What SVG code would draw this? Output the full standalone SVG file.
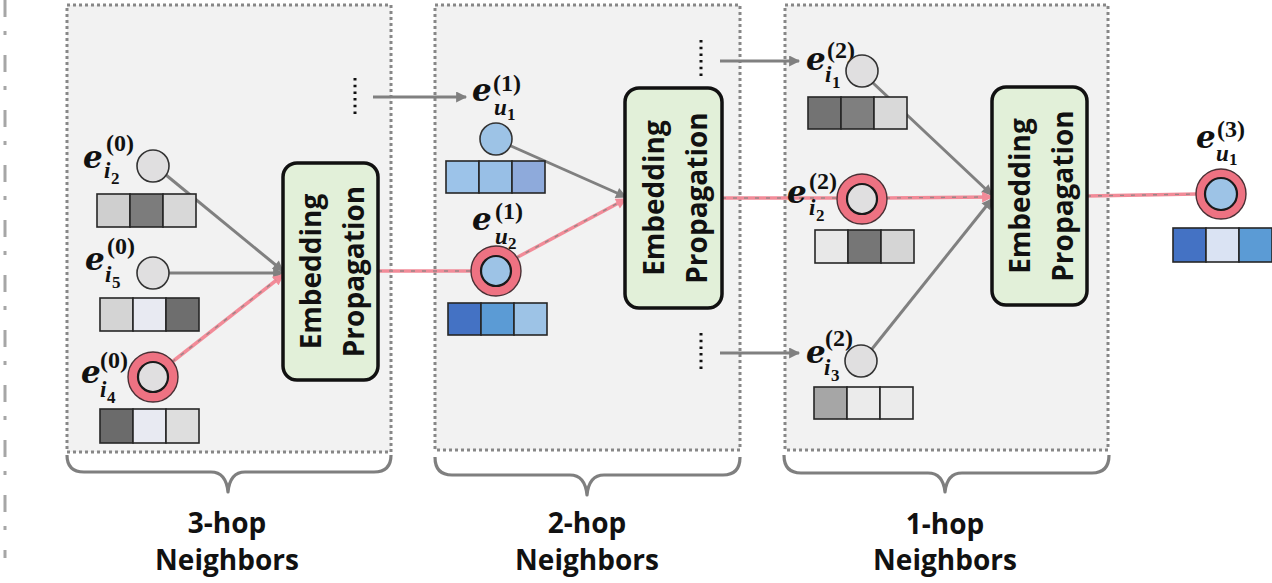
<svg xmlns="http://www.w3.org/2000/svg" width="1272" height="583" viewBox="0 0 1272 583">
  <style>
    .panel { fill: #f2f2f2; stroke: #878787; stroke-width: 3; stroke-dasharray: 3 3; }
    .brace { fill: none; stroke: #7f7f7f; stroke-width: 3.2; stroke-linejoin: round; }
    .hop { font-family: "Open Sans", "Liberation Sans", sans-serif; font-weight: 700; font-size: 28px; fill: #111; text-anchor: middle; }
    .ep rect { fill: #e2f0d9; stroke: #111; stroke-width: 3.5; }
    .ep text { font-family: "Open Sans", "Liberation Sans", sans-serif; font-weight: 700; font-size: 28px; fill: #111; text-anchor: middle; }
    .item { fill: #e0dfe0; stroke: #333; stroke-width: 1.6; }
    .user { fill: #9dc3e6; stroke: #333; stroke-width: 1.6; }
    .ring { fill: #ee7282; stroke: #4a3035; stroke-width: 1.4; }
    .core { stroke: #1a1a1a; stroke-width: 2.2; }
    .cell { stroke: #262626; stroke-width: 1.6; }
    .e { font-family: "DejaVu Serif", "Liberation Serif", serif; font-style: italic; font-weight: 700; font-size: 31px; fill: #111; }
    .sup { font-family: "Liberation Serif", "DejaVu Serif", serif; font-weight: 700; font-size: 24px; fill: #111; }
    .sub { font-family: "Liberation Serif", "DejaVu Serif", serif; font-style: italic; font-weight: 700; font-size: 23px; fill: #111; }
    .sub2 { font-family: "Liberation Serif", "DejaVu Serif", serif; font-weight: 700; font-size: 17px; fill: #111; }
    .edge { fill: none; stroke: #808080; stroke-width: 3; }
    .hl { fill: none; stroke: #f28b98; stroke-width: 3.5; }
    .hl-dash { fill: none; stroke: #9a8587; stroke-width: 1.4; stroke-dasharray: 4 7; }
    .more { stroke: #111; stroke-width: 3; stroke-dasharray: 2.5 4.2; }
  </style>
  <defs>
    <marker id="arrow" viewBox="0 0 10 10" refX="9" refY="5" markerUnits="userSpaceOnUse" markerWidth="12" markerHeight="11" orient="auto">
      <path d="M0,0 L10,5 L0,10 z" fill="#808080"/>
    </marker>
    <marker id="arrow-hl" viewBox="0 0 10 10" refX="9" refY="5" markerUnits="userSpaceOnUse" markerWidth="12" markerHeight="11" orient="auto">
      <path d="M0,0 L10,5 L0,10 z" fill="#f28b98"/>
    </marker>
  </defs>

  <!-- left dash-dot separator -->
  <line x1="5" y1="0" x2="5" y2="558" stroke="#a6a6a6" stroke-width="3" stroke-dasharray="17 14 4 20"/>

  <!-- hop panels -->
  <g id="panel-3hop"><rect class="panel" x="67" y="5" width="324" height="447"/></g>
  <g id="panel-2hop"><rect class="panel" x="435" y="5" width="305" height="445"/></g>
  <g id="panel-1hop"><rect class="panel" x="785" y="5" width="323" height="445"/></g>

  <!-- braces and captions -->
  <g id="brace-3hop">
    <path class="brace" d="M67,455 Q67,472 84,472 L211,472 Q226,472 228,492 Q230,472 245,472 L374,472 Q391,472 391,455"/>
    <text class="hop" x="227" y="533">3-hop</text>
    <text class="hop" x="227" y="570">Neighbors</text>
  </g>
  <g id="brace-2hop">
    <path class="brace" d="M435,457 Q435,475 452,475 L570,475 Q585,475 587,495 Q589,475 604,475 L723,475 Q740,475 740,457"/>
    <text class="hop" x="587" y="533">2-hop</text>
    <text class="hop" x="587" y="570">Neighbors</text>
  </g>
  <g id="brace-1hop">
    <path class="brace" d="M784,455 Q784,473 801,473 L928,473 Q943,473 945,492 Q947,473 962,473 L1092,473 Q1109,473 1109,455"/>
    <text class="hop" x="945" y="534">1-hop</text>
    <text class="hop" x="945" y="570">Neighbors</text>
  </g>

  <!-- ellipsis marks for omitted neighbours -->
  <g id="ellipses">
    <line class="more" x1="355" y1="78" x2="355" y2="117"/>
    <line class="more" x1="701" y1="40" x2="701" y2="80"/>
    <line class="more" x1="701" y1="333" x2="701" y2="373"/>
  </g>

  <!-- connectors -->
  <g id="connectors">
    <line class="edge" x1="373" y1="97" x2="466" y2="97" marker-end="url(#arrow)"/>
    <line class="edge" x1="720" y1="61" x2="799" y2="61" marker-end="url(#arrow)"/>
    <line class="edge" x1="720" y1="353" x2="799" y2="353" marker-end="url(#arrow)"/>
    <line class="edge" x1="166" y1="175" x2="283" y2="271" marker-end="url(#arrow)"/>
    <line class="edge" x1="169" y1="273" x2="283" y2="273" marker-end="url(#arrow)"/>
    <line class="edge" x1="511" y1="146" x2="626" y2="197" marker-end="url(#arrow)"/>
    <line class="edge" x1="872" y1="82" x2="992" y2="195" marker-end="url(#arrow)"/>
    <line class="edge" x1="872" y1="349" x2="992" y2="199" marker-end="url(#arrow)"/>

    <line class="hl" x1="172" y1="362" x2="283" y2="275" marker-end="url(#arrow-hl)"/>
    <line class="hl-dash" x1="172" y1="362" x2="276" y2="280"/>
    <line class="hl" x1="378" y1="271" x2="472" y2="271"/>
    <line class="hl-dash" x1="378" y1="271" x2="472" y2="271"/>
    <line class="hl" x1="516" y1="258" x2="626" y2="199" marker-end="url(#arrow-hl)"/>
    <line class="hl-dash" x1="516" y1="258" x2="618" y2="203"/>
    <line class="hl" x1="722" y1="198" x2="838" y2="198"/>
    <line class="hl-dash" x1="722" y1="198" x2="838" y2="198"/>
    <line class="hl" x1="886" y1="198" x2="992" y2="197" marker-end="url(#arrow-hl)"/>
    <line class="hl-dash" x1="886" y1="198" x2="983" y2="197"/>
    <line class="hl" x1="1087" y1="196" x2="1197" y2="194"/>
    <line class="hl-dash" x1="1087" y1="196" x2="1197" y2="194"/>
  </g>

  <!-- embedding propagation blocks -->
  <g id="ep-3hop" class="ep">
    <rect x="283" y="163" width="95" height="217" rx="14"/>
    <g transform="translate(330.5,271.5) rotate(-90)">
      <text x="0" y="-10">Embedding</text>
      <text x="0" y="33">Propagation</text>
    </g>
  </g>
  <g id="ep-2hop" class="ep">
    <rect x="625" y="88" width="97" height="220" rx="14"/>
    <g transform="translate(673.5,198) rotate(-90)">
      <text x="0" y="-10">Embedding</text>
      <text x="0" y="33">Propagation</text>
    </g>
  </g>
  <g id="ep-1hop" class="ep">
    <rect x="992" y="87" width="95" height="218" rx="14"/>
    <g transform="translate(1039.5,196) rotate(-90)">
      <text x="0" y="-10">Embedding</text>
      <text x="0" y="33">Propagation</text>
    </g>
  </g>

  <!-- 3-hop item nodes -->
  <g id="node-i2-0">
    <text class="e" x="83" y="168">e</text>
    <text class="sup" x="106" y="151">(0)</text>
    <text class="sub" x="104" y="178">i</text>
    <text class="sub2" x="111" y="184">2</text>
    <circle class="item" cx="153" cy="166" r="16"/>
    <rect class="cell" x="97" y="194" width="33" height="33" fill="#cfcfcf"/>
    <rect class="cell" x="130" y="194" width="33" height="33" fill="#7c7c7c"/>
    <rect class="cell" x="163" y="194" width="33" height="33" fill="#d8d8d8"/>
  </g>
  <g id="node-i5-0">
    <text class="e" x="85" y="270">e</text>
    <text class="sup" x="107" y="254">(0)</text>
    <text class="sub" x="105" y="282">i</text>
    <text class="sub2" x="112" y="288">5</text>
    <circle class="item" cx="153" cy="273" r="16"/>
    <rect class="cell" x="100" y="298" width="33" height="33" fill="#d4d4d4"/>
    <rect class="cell" x="133" y="298" width="33" height="33" fill="#e8eaf2"/>
    <rect class="cell" x="166" y="298" width="33" height="33" fill="#6e6e6e"/>
  </g>
  <g id="node-i4-0">
    <text class="e" x="81" y="383">e</text>
    <text class="sup" x="100" y="368">(0)</text>
    <text class="sub" x="100" y="397">i</text>
    <text class="sub2" x="107" y="403">4</text>
    <circle class="ring" cx="153" cy="377" r="25"/>
    <circle class="item core" cx="153" cy="377" r="15"/>
    <rect class="cell" x="100" y="409" width="33" height="34" fill="#6b6b6b"/>
    <rect class="cell" x="133" y="409" width="33" height="34" fill="#e8eaf2"/>
    <rect class="cell" x="166" y="409" width="33" height="34" fill="#dedede"/>
  </g>

  <!-- 2-hop user nodes -->
  <g id="node-u1-1">
    <text class="e" x="472" y="101">e</text>
    <text class="sup" x="493" y="91">(1)</text>
    <text class="sub" x="494" y="115">u</text>
    <text class="sub2" x="507" y="120">1</text>
    <circle class="user" cx="496" cy="139" r="16"/>
    <rect class="cell" x="446" y="161" width="33" height="32" fill="#9cc3e9" stroke="#1f3352"/>
    <rect class="cell" x="479" y="161" width="33" height="32" fill="#98bfe6" stroke="#1f3352"/>
    <rect class="cell" x="512" y="161" width="33" height="32" fill="#8eaadb" stroke="#1f3352"/>
  </g>
  <g id="node-u2-1">
    <text class="e" x="472" y="230">e</text>
    <text class="sup" x="495" y="219">(1)</text>
    <text class="sub" x="495" y="244">u</text>
    <text class="sub2" x="508" y="249">2</text>
    <circle class="ring" cx="496" cy="271" r="25"/>
    <circle class="user core" cx="496" cy="271" r="15"/>
    <rect class="cell" x="448" y="303" width="33" height="32" fill="#4472c4" stroke="#1f3352"/>
    <rect class="cell" x="481" y="303" width="33" height="32" fill="#5b9bd5" stroke="#1f3352"/>
    <rect class="cell" x="514" y="303" width="33" height="32" fill="#9dc3e6" stroke="#1f3352"/>
  </g>

  <!-- 1-hop item nodes -->
  <g id="node-i1-2">
    <text class="e" x="806" y="70">e</text>
    <text class="sup" x="827" y="58">(2)</text>
    <text class="sub" x="825" y="82">i</text>
    <text class="sub2" x="832" y="88">1</text>
    <circle class="item" cx="862" cy="71" r="16"/>
    <rect class="cell" x="808" y="97" width="33" height="32" fill="#737373"/>
    <rect class="cell" x="841" y="97" width="33" height="32" fill="#7f7f7f"/>
    <rect class="cell" x="874" y="97" width="33" height="32" fill="#d9d9d9"/>
  </g>
  <g id="node-i2-2">
    <text class="e" x="787" y="203">e</text>
    <text class="sup" x="809" y="189">(2)</text>
    <text class="sub" x="809" y="215">i</text>
    <text class="sub2" x="816" y="221">2</text>
    <circle class="ring" cx="862" cy="199" r="25"/>
    <circle class="item core" cx="862" cy="199" r="15"/>
    <rect class="cell" x="815" y="230" width="33" height="33" fill="#e8e8e8"/>
    <rect class="cell" x="848" y="230" width="33" height="33" fill="#767676"/>
    <rect class="cell" x="881" y="230" width="33" height="33" fill="#d5d5d5"/>
  </g>
  <g id="node-i3-2">
    <text class="e" x="806" y="363">e</text>
    <text class="sup" x="825" y="346">(2)</text>
    <text class="sub" x="824" y="375">i</text>
    <text class="sub2" x="831" y="381">3</text>
    <circle class="item" cx="861" cy="361" r="16"/>
    <rect class="cell" x="814" y="387" width="33" height="32" fill="#a6a6a6"/>
    <rect class="cell" x="847" y="387" width="33" height="32" fill="#ebebeb"/>
    <rect class="cell" x="880" y="387" width="33" height="32" fill="#ebebeb"/>
  </g>

  <!-- target user embedding -->
  <g id="node-u1-3">
    <text class="e" x="1196" y="148">e</text>
    <text class="sup" x="1217" y="137">(3)</text>
    <text class="sub" x="1216" y="161">u</text>
    <text class="sub2" x="1229" y="165">1</text>
    <circle class="ring" cx="1221" cy="194" r="25"/>
    <circle class="user core" cx="1221" cy="194" r="16"/>
    <rect class="cell" x="1173" y="228" width="33" height="34" fill="#4472c4" stroke="#1f3352"/>
    <rect class="cell" x="1206" y="228" width="33" height="34" fill="#dae3f3" stroke="#1f3352"/>
    <rect class="cell" x="1239" y="228" width="33" height="34" fill="#5b9bd5" stroke="#1f3352"/>
  </g>
</svg>
